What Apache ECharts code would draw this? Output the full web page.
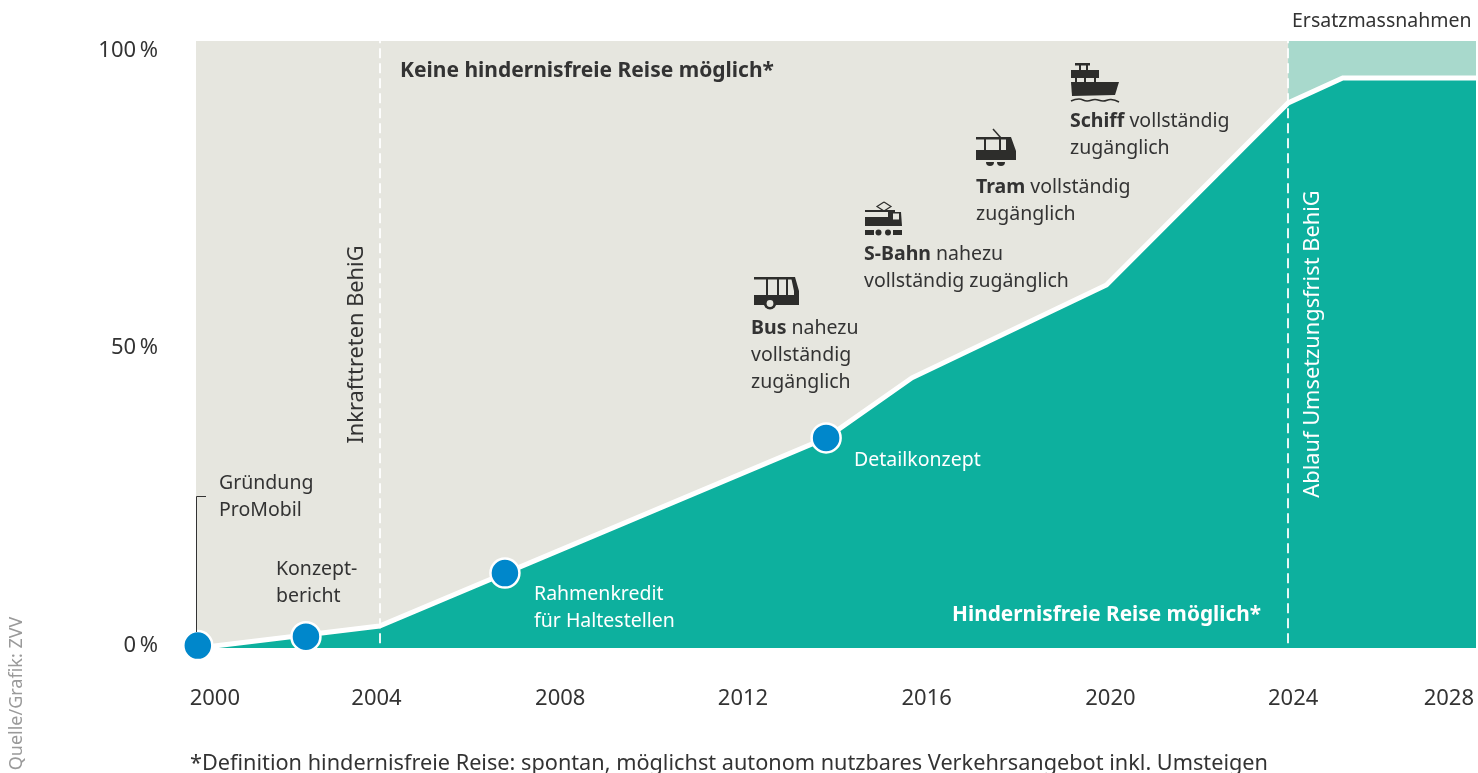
<!DOCTYPE html>
<html><head><meta charset="utf-8">
<style>html,body{margin:0;padding:0;background:#fff;overflow:hidden}#c{width:1478px;height:773px}</style>
<script src="https://cdn.jsdelivr.net/npm/echarts@6/dist/echarts.min.js"></script>
</head><body><div id="c"></div>
<script>
const lineYears = [2000, 2004, 2013.83, 2015.72, 2020, 2024, 2025.2, 2028.135];
const accessible = [0, 3.7, 35.3, 45.4, 61, 91.6, 95.8, 95.8];
const milestoneYears = [2000, 2002.38, 2006.76, 2013.83];
const milestoneValues = [0.4, 1.9, 12.6, 35.3];
const ersatzYears = [2024, 2028.135];
const ersatzTop = [102, 102];
const markerYears = [2004, 2024];
const xTicks = [2000, 2004, 2008, 2012, 2016, 2020, 2024, 2028];
const yTicks = [0, 50, 100];

const FN = 'Noto Sans', F = '"Noto Sans", sans-serif', D = '#333', BG = '#e6e6df', G = '#0db09e', INK = '#2d2d2b';
const chart = echarts.init(document.getElementById('c'), null, {renderer:'canvas'});

const zip = (a,b)=>a.map((v,i)=>[v,b[i]]);
const txt = (x,y,text,o={})=>({type:'text',x,y,z:20,silent:true,rotation:o.rot||0,style:{
  text,fill:o.fill||D,font:(o.w?o.w+' ':'')+(o.size||19.5)+'px '+F,align:o.align||'left',verticalAlign:'middle',lineHeight:o.lh||27,
  rich:o.rich}});
const boldRich = c=>({b:{fontFamily:FN,fontWeight:'bold',fontSize:19.5,fill:c||D,lineHeight:27}, t:{fontFamily:FN,fontSize:19.5,fill:c||D,lineHeight:27}});
const r=(x,y,w,h,f)=>({type:'rect',shape:{x,y,width:w,height:h},style:{fill:f||INK},silent:true,z:20});
const c=(x,y,rad,f)=>({type:'circle',shape:{cx:x,cy:y,r:rad},style:{fill:f||INK},silent:true,z:20});
const p=(pts,f)=>({type:'polygon',shape:{points:pts},style:{fill:f||INK},silent:true,z:20});
const l=(pts,w,sm)=>({type:'polyline',shape:{points:pts,smooth:sm||0},style:{stroke:INK,lineWidth:w||1.5,fill:null},silent:true,z:20});
const sec=(x,y,rad)=>({type:'sector',shape:{cx:x,cy:y,r:rad,startAngle:0,endAngle:Math.PI},style:{fill:INK},silent:true,z:20});

const icons = [
  // bus
  r(754,277,40,2.5), p([[791,277],[795,277],[799,291],[799,305],[794,305],[794,291]]),
  r(766,277,2,18), r(777,277,2,18), r(786,277,2,18),
  r(754,295,45,10), c(770,303,6.5), c(770,303.5,3.4,BG),
  // s-bahn
  l([[884,202],[891,206.5],[884,211],[877,206.5],[884,202]],1.2),
  r(865,210,30,2), r(865,217,30,2), p([[888,212],[901,212],[902,226],[865,226],[865,218],[888,218]]),
  r(893,213.5,6,6,BG),
  r(865,230,9,5), c(878.5,232.5,3), c(888,232.5,3), r(893,230,9,5),
  // tram
  l([[993,129],[1001,138]],1.5), r(976,137,32,2.5), p([[1006,137],[1011,137],[1016,151],[1016,160],[976,160],[976,150],[1006,150]]),
  r(984,137,2,14), r(999,137,2,14), r(1006,137,2,14),
  sec(990,162,4), sec(1001,162,4),
  // ship
  r(1075,63,15,2.5), r(1071,70,28,8), r(1079,65,2,6), r(1086,65,2,6),
  r(1075,77,2,6), r(1084,77,2,6), r(1094,77,2,6),
  p([[1071,82],[1119,82],[1115,95],[1072,96]]),
  l([[1071,101],[1079,99],[1087,101],[1095,99.5],[1103,101],[1111,99.5],[1119,102]],1.5,0.5)
];

const graphics = [
  ...icons,
  txt(400,71,'Keine hindernisfreie Reise möglich*',{w:'bold',size:21}),
  txt(1070,134.5,'{b|Schiff} {t|vollständig}\n{t|zugänglich}',{rich:boldRich()}),
  txt(976,201,'{b|Tram} {t|vollständig}\n{t|zugänglich}',{rich:boldRich()}),
  txt(864,268,'{b|S-Bahn} {t|nahezu}\n{t|vollständig zugänglich}',{rich:boldRich()}),
  txt(751,355,'{b|Bus} {t|nahezu}\n{t|vollständig}\n{t|zugänglich}',{rich:boldRich()}),
  txt(854,460,'Detailkonzept',{fill:'#fff'}),
  txt(534,608,'Rahmenkredit\nfür Haltestellen',{fill:'#fff'}),
  txt(952,615,'Hindernisfreie Reise möglich*',{w:'bold',size:20.8,fill:'#fff'}),
  txt(276,582.5,'Konzept-\nbericht'),
  txt(219,496.5,'Gründung\nProMobil'),
  txt(1292,21,'Ersatzmassnahmen'),
  txt(190,764,'*Definition hindernisfreie Reise: spontan, möglichst autonom nutzbares Verkehrsangebot inkl. Umsteigen',{size:21.7}),
  txt(357,344.5,'Inkrafttreten BehiG',{rot:Math.PI/2,align:'center',size:21.8}),
  txt(1313,344,'Ablauf Umsetzungsfrist BehiG',{rot:Math.PI/2,align:'center',size:21.8,fill:'#fff'}),
  txt(17,693.5,'Quelle/Grafik: ZVV',{rot:Math.PI/2,align:'center',size:18,fill:'#9a9a9a'}),
  {type:'polyline',shape:{points:[[206,496.5],[196.5,496.5],[196.5,632]]},style:{stroke:'#333',lineWidth:1,fill:null},silent:true,z:20}
];
const tk={fontFamily:FN,fontSize:22,color:D};
const labelNudge={2000:17,2004:-3,2008:-1,2012:0,2016:2,2020:4,2024:5,2028:-21};
const xRich={};
xTicks.forEach(y=>{const n=labelNudge[y];xRich['y'+y]={...tk,padding:n>=0?[0,0,0,2*n]:[0,-2*n,0,0]};});

chart.setOption({
  animation:false,
  grid:{left:196,right:2,top:41,height:607,show:true,backgroundColor:BG,borderWidth:0},
  xAxis:{type:'value',min:1999.96,max:2028.135,splitLine:{show:false},axisLine:{show:false},axisTick:{show:false},
    axisLabel:{customValues:xTicks,margin:40,...tk,formatter:v=>'{y'+v+'|'+v+'}',rich:xRich}},
  yAxis:{type:'value',min:0,max:102,interval:50,splitLine:{show:false},axisLine:{show:false},axisTick:{show:false},
    axisLabel:{margin:38,...tk,customValues:yTicks,formatter:v=>'{p|'+v+'\u2009%}',rich:{p:{...tk,padding:[0,0,5,0]}}}},
  series:[
    {type:'line',z:1,data:zip(ersatzYears,ersatzTop),symbol:'none',lineStyle:{width:0},areaStyle:{color:'#a8d9cc',opacity:1}},
    {type:'line',z:2,data:zip(lineYears,accessible),symbol:'none',lineStyle:{color:'#fff',width:5,join:'miter'},areaStyle:{color:G,opacity:1},
      markLine:{silent:true,symbol:'none',label:{show:false},z:5,
        lineStyle:{color:'#fff',type:[10,5],width:2,opacity:.9},
        data:markerYears.map(y=>[{coord:[y,0.8]},{coord:[y,102]}])}},
    {type:'scatter',z:10,data:zip(milestoneYears,milestoneValues),symbolSize:29,clip:false,
      itemStyle:{color:'#0087cb',borderColor:'#fff',borderWidth:2.5,opacity:1}}
  ],
  graphic:graphics
});
</script></body></html>
